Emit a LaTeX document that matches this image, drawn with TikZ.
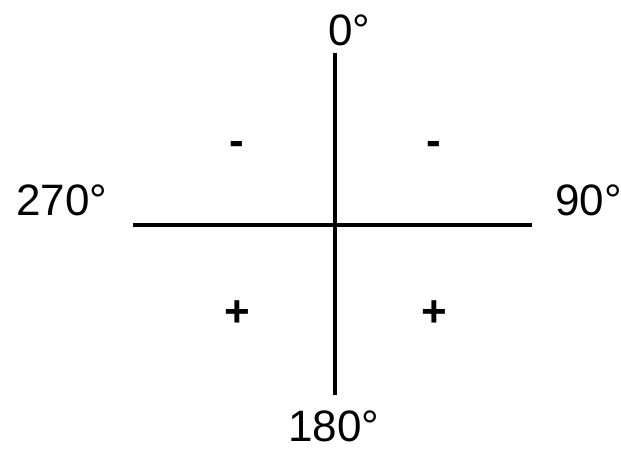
\documentclass[tikz,border=0pt]{standalone}
\usepackage{fontspec}
\setmainfont{Liberation Sans}
\begin{document}
\begin{tikzpicture}[x=1pt, y=-1pt,
    deg/.style={inner sep=0pt, anchor=base west, font=\fontsize{44}{50}\selectfont},
    sign/.style={inner sep=0pt, anchor=base, font=\fontsize{44}{50}\selectfont\bfseries}]
    \useasboundingbox (0,0) rectangle (621,448);

    \coordinate (top) at (335,53);
    \coordinate (bottom) at (335,395);
    \coordinate (left) at (133,225);
    \coordinate (right) at (532,225);
    \draw[line width=3.5pt] (top) -- (bottom);
    \draw[line width=3.5pt] (left) -- (right);

    \node[deg] (north) at (328,45) {0°};
    \node[deg] (east) at (555,215) {90°};
    \node[deg] (south) at (288,441) {180°};
    \node[deg] (west) at (16,215) {270°};

    \node[sign] (nw) at (237,155) {-};
    \node[sign] (ne) at (434,155) {-};
    \node[sign] (sw) at (237,326) {+};
    \node[sign] (se) at (434,326) {+};
\end{tikzpicture}
\end{document}
